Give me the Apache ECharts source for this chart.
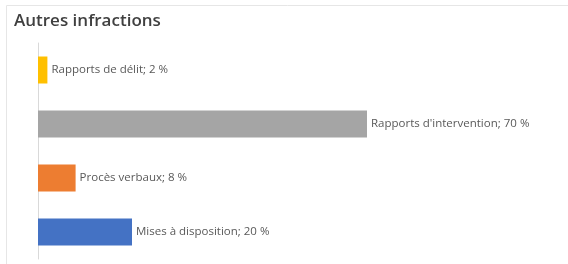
<!DOCTYPE html>
<html>
<head>
<meta charset="utf-8">
<script src="https://cdn.jsdelivr.net/npm/echarts@6/dist/echarts.min.js"></script>
<style>
  html, body { margin: 0; padding: 0; background: #fff; }
  #main { width: 568px; height: 264px; }
</style>
</head>
<body>
<div id="main"></div>
<script>
// categories top to bottom
const categories = ['Rapports de délit', "Rapports d'intervention", 'Procès verbaux', 'Mises à disposition'];
const values = [2, 70, 8, 20];
const colors = ['#FFC000', '#A5A5A5', '#ED7D31', '#4472C4'];

const chart = echarts.init(document.getElementById('main'));
chart.setOption({
  animation: false,
  title: {
    text: 'Autres infractions',
    left: 9,
    top: 8,
    textStyle: { fontFamily: 'Open Sans', fontSize: 17, fontWeight: 600, color: '#404040' }
  },
  graphic: [{
    type: 'polyline',
    shape: { points: [[568, 5.5], [6.5, 5.5], [6.5, 264]] },
    style: { stroke: '#e6e6e6', lineWidth: 1, fill: null }
  }],
  grid: { left: 38, width: 470, top: 43, bottom: 5 },
  xAxis: {
    type: 'value', min: 0, max: 100,
    show: false
  },
  yAxis: {
    type: 'category',
    inverse: true,
    data: categories,
    axisLine: { lineStyle: { color: '#d9d9d9' } },
    axisTick: { length: 3, lineStyle: { color: '#d9d9d9' } },
    axisLabel: { show: false }
  },
  series: [{
    type: 'bar',
    barWidth: '50%',
    data: values.map((v, i) => ({ value: v, itemStyle: { color: colors[i] } })),
    label: {
      show: true,
      position: 'right',
      distance: 4,
      fontFamily: 'Open Sans',
      fontSize: 11.5,
      color: '#595959',
      formatter: p => p.name + '; ' + p.value + ' %'
    }
  }]
});
</script>
</body>
</html>
